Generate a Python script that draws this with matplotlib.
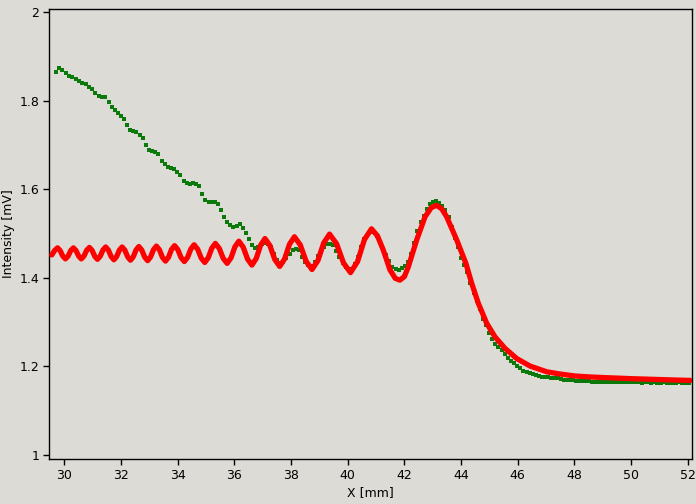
import matplotlib
matplotlib.use("Agg")
import matplotlib.pyplot as plt
from matplotlib.ticker import FuncFormatter

# ---- measured data (green squares) ----
data_x = [29.72, 29.82, 29.93, 30.05, 30.17, 30.28, 30.40, 30.52, 30.64, 30.76,
          30.87, 30.99, 31.10, 31.21, 31.33, 31.44, 31.56, 31.67, 31.78, 31.88,
          31.99, 32.10, 32.21, 32.32, 32.43, 32.54, 32.66, 32.77, 32.87, 32.99,
          33.10, 33.21, 33.32, 33.43, 33.54, 33.65, 33.76, 33.88, 33.99, 34.10,
          34.21, 34.32, 34.43, 34.54, 34.65, 34.76, 34.87, 34.98, 35.09, 35.20,
          35.31, 35.42, 35.53, 35.64, 35.75, 35.86, 35.97, 36.08, 36.19, 36.30,
          36.41, 36.52, 36.63, 36.74, 36.85, 36.96, 37.07, 37.18, 37.29, 37.40,
          37.51, 37.62, 37.73, 37.84, 37.95, 38.06, 38.17, 38.28, 38.39, 38.50,
          38.61, 38.72, 38.83, 38.94, 39.05, 39.16, 39.27, 39.38, 39.49, 39.60,
          39.71, 39.82, 39.93, 40.04, 40.15, 40.26, 40.37, 40.48, 40.59, 40.70,
          40.81, 40.92, 41.03, 41.14, 41.25, 41.36, 41.47, 41.58, 41.69, 41.80,
          41.91, 42.02, 42.13, 42.24, 42.35, 42.46, 42.57, 42.68, 42.79, 42.90,
          43.01, 43.12, 43.23, 43.34, 43.45, 43.56, 43.67, 43.78, 43.89, 44.00,
          44.11, 44.22, 44.33, 44.44, 44.55, 44.66, 44.77, 44.88, 44.99, 45.10,
          45.21, 45.32, 45.43, 45.54, 45.65, 45.76, 45.87, 45.98, 46.09, 46.20,
          46.31, 46.42, 46.53, 46.64, 46.75, 46.86, 46.97, 47.08, 47.19, 47.30,
          47.41, 47.52, 47.63, 47.74, 47.85, 47.96, 48.07, 48.18, 48.29, 48.40,
          48.51, 48.62, 48.73, 48.84, 48.95, 49.06, 49.17, 49.28, 49.39, 49.50,
          49.61, 49.72, 49.83, 49.94, 50.05, 50.16, 50.27, 50.38, 50.49, 50.60,
          50.71, 50.82, 50.93, 51.04, 51.15, 51.26, 51.37, 51.48, 51.59, 51.70,
          51.81, 51.92, 52.03]
data_y = [1.866, 1.875, 1.870, 1.862, 1.857, 1.853, 1.849, 1.846, 1.841, 1.837,
          1.832, 1.826, 1.818, 1.811, 1.808, 1.808, 1.798, 1.786, 1.779, 1.772,
          1.766, 1.759, 1.745, 1.734, 1.731, 1.729, 1.723, 1.716, 1.700, 1.690,
          1.686, 1.685, 1.681, 1.665, 1.657, 1.650, 1.648, 1.647, 1.640, 1.632,
          1.619, 1.615, 1.612, 1.615, 1.612, 1.607, 1.590, 1.576, 1.571, 1.572,
          1.571, 1.568, 1.553, 1.538, 1.527, 1.520, 1.516, 1.518, 1.522, 1.513,
          1.501, 1.487, 1.474, 1.467, 1.470, 1.477, 1.479, 1.477, 1.469, 1.455,
          1.441, 1.434, 1.436, 1.444, 1.455, 1.462, 1.466, 1.464, 1.447, 1.436,
          1.429, 1.427, 1.436, 1.450, 1.461, 1.471, 1.476, 1.477, 1.474, 1.461,
          1.448, 1.433, 1.425, 1.421, 1.420, 1.431, 1.447, 1.470, 1.487, 1.499,
          1.504, 1.503, 1.494, 1.481, 1.466, 1.451, 1.438, 1.425, 1.420, 1.418,
          1.422, 1.427, 1.435, 1.455, 1.478, 1.505, 1.526, 1.540, 1.555, 1.566,
          1.571, 1.573, 1.570, 1.563, 1.553, 1.538, 1.516, 1.490, 1.469, 1.446,
          1.430, 1.414, 1.389, 1.367, 1.347, 1.329, 1.308, 1.293, 1.276, 1.261,
          1.251, 1.244, 1.237, 1.229, 1.219, 1.212, 1.207, 1.202, 1.196, 1.190,
          1.187, 1.186, 1.184, 1.181, 1.178, 1.177, 1.176, 1.176, 1.175, 1.173,
          1.173, 1.172, 1.170, 1.169, 1.169, 1.169, 1.168, 1.168, 1.167, 1.167,
          1.167, 1.166, 1.166, 1.166, 1.165, 1.166, 1.165, 1.165, 1.165, 1.164,
          1.165, 1.164, 1.164, 1.164, 1.165, 1.164, 1.164, 1.163, 1.164, 1.164,
          1.163, 1.164, 1.163, 1.163, 1.164, 1.163, 1.163, 1.163, 1.163, 1.164,
          1.163, 1.163, 1.163]

# ---- fitted curve (red line) ----
fit_x = [29.56, 29.66, 29.76, 29.853, 29.947, 30.04, 30.133, 30.227, 30.32,
         30.413, 30.507, 30.60, 30.695, 30.79, 30.885, 30.98, 31.075, 31.17,
         31.267, 31.363, 31.46, 31.557, 31.653, 31.75, 31.847, 31.943, 32.04,
         32.138, 32.237, 32.335, 32.433, 32.532, 32.63, 32.733, 32.837, 32.94,
         33.043, 33.147, 33.25, 33.357, 33.463, 33.57, 33.677, 33.783, 33.89,
         34.005, 34.12, 34.235, 34.35, 34.465, 34.58, 34.705, 34.83, 34.955,
         35.08, 35.205, 35.33, 35.468, 35.607, 35.745, 35.883, 36.022, 36.16,
         36.313, 36.467, 36.62, 36.773, 36.927, 37.08, 37.253, 37.427, 37.60,
         37.773, 37.947, 38.12, 38.327, 38.533, 38.74, 38.947, 39.153, 39.36,
         39.607, 39.853, 40.10, 40.347, 40.593, 40.84, 41.05, 41.256, 41.493,
         41.68, 41.84, 42.00, 42.138, 42.435, 42.728, 42.95, 43.14, 43.32,
         43.493, 43.846, 44.17, 44.375, 44.608, 44.905, 45.197, 45.55, 45.963,
         46.433, 47.022, 47.491, 48.02, 48.5, 49.0, 49.5, 50.0, 50.5, 51.0,
         51.5, 52.1]
fit_y = [1.452, 1.462, 1.468, 1.4618, 1.4493, 1.443, 1.4493, 1.4618, 1.468,
         1.4618, 1.4493, 1.443, 1.4495, 1.4625, 1.469, 1.4623, 1.4488, 1.442,
         1.449, 1.463, 1.470, 1.4628, 1.4483, 1.441, 1.4483, 1.4628, 1.470,
         1.4625, 1.4475, 1.440, 1.4478, 1.4633, 1.471, 1.463, 1.447, 1.439,
         1.4473, 1.4638, 1.472, 1.4635, 1.4465, 1.438, 1.4468, 1.4643, 1.473,
         1.464, 1.446, 1.437, 1.4465, 1.4655, 1.475, 1.465, 1.445, 1.435,
         1.4458, 1.4673, 1.478, 1.4668, 1.4443, 1.433, 1.4455, 1.4705, 1.483,
         1.4695, 1.4425, 1.429, 1.444, 1.474, 1.489, 1.4733, 1.4418, 1.426,
         1.4428, 1.4763, 1.493, 1.4745, 1.4375, 1.419, 1.439, 1.479, 1.499,
         1.4773, 1.4338, 1.412, 1.437, 1.487, 1.511, 1.495, 1.463, 1.418,
         1.399, 1.395, 1.403, 1.425, 1.486, 1.538, 1.559, 1.564, 1.556,
         1.538, 1.486, 1.433, 1.388, 1.343, 1.2975, 1.267, 1.241, 1.218,
         1.201, 1.188, 1.183, 1.1785, 1.1765, 1.175, 1.1738, 1.1725, 1.1715,
         1.1705, 1.1695, 1.1685]

x_ticks = [30, 32, 34, 36, 38, 40, 42, 44, 46, 48, 50, 52]
y_ticks = [1.0, 1.2, 1.4, 1.6, 1.8, 2.0]

bg = "#dcdbd6"
fig = plt.figure(figsize=(6.96, 5.04), dpi=100, facecolor=bg)
ax = fig.add_axes([0.0704, 0.0893, 0.9239, 0.8928], facecolor=bg)

ax.plot(data_x, data_y, linestyle="none", marker="s", markersize=2.4,
        markeredgewidth=0, color="#0b7a0b", zorder=2)
ax.plot(fit_x, fit_y, color="#ff0000", linewidth=3.8, solid_joinstyle="round",
        solid_capstyle="round", zorder=3)

ax.set_xlim(29.46, 52.15)
ax.set_ylim(0.991, 2.0075)
ax.set_xticks(x_ticks)
ax.set_yticks(y_ticks)
ax.yaxis.set_major_formatter(FuncFormatter(lambda v, p: f"{v:g}"))
ax.tick_params(direction="out", length=4, width=1, labelsize=9, colors="black",
               pad=3)
for s in ax.spines.values():
    s.set_color("black")
    s.set_linewidth(1)
ax.set_xlabel("X [mm]", fontsize=9, labelpad=3)
ax.set_ylabel("Intensity [mV]", fontsize=9, labelpad=3)

fig.savefig("out.png", dpi=100, facecolor=bg)
